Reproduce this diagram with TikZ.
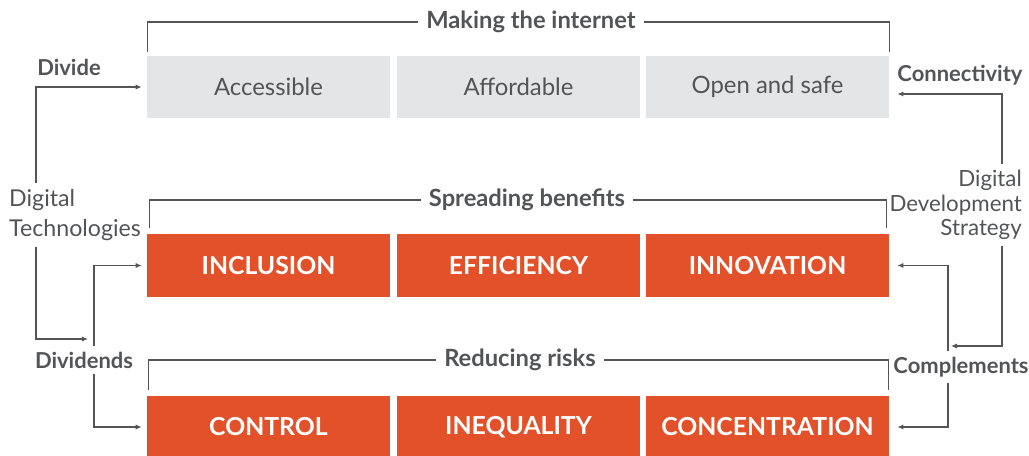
\documentclass[tikz,border=0pt]{standalone}
\usepackage{fontspec}
\setmainfont{Lato}
\usetikzlibrary{arrows.meta,positioning,calc}
\definecolor{boxgray}{HTML}{E4E5E6}
\definecolor{wdrorange}{HTML}{E2512A}
\definecolor{txtgray}{HTML}{535456}
\definecolor{linegray}{HTML}{545454}

\begin{document}
\begin{tikzpicture}[x=0.02cm,y=-0.02cm,
  font=\fontsize{12.5}{15}\selectfont,text=txtgray,
  gbox/.style={fill=boxgray,font=\fontsize{13.6}{16}\selectfont,minimum width=4.86cm,minimum height=1.24cm,inner sep=0pt},
  obox/.style={fill=wdrorange,text=white,font=\fontsize{14.1}{16}\selectfont\bfseries,minimum width=4.86cm,minimum height=1.26cm,inner sep=0pt},
  title/.style={font=\fontsize{13.5}{15}\selectfont\bfseries,inner sep=0.15cm},
  side/.style={font=\fontsize{12.5}{15}\selectfont\bfseries},
  bracket/.style={draw=linegray,line width=0.65pt},
  flow/.style={draw=linegray,line width=0.65pt,-{Latex[length=3.5pt,width=3pt]}}]

\useasboundingbox (0,0) rectangle (1029,456);

\node[gbox] (acc) at (268.5,87) {Accessible};
\node[gbox] (aff) at (518.5,87) {Affordable};
\node[gbox] (open) at (767.5,87) {Open and safe};

\node[obox] (inc) at (268.5,265.5) {INCLUSION};
\node[obox] (eff) at (518.5,265.5) {EFFICIENCY};
\node[obox] (inn) at (767.5,265.5) {INNOVATION};

\node[obox] (con) at (268.5,427) {CONTROL};
\node[obox] (ineq) at (518.5,427) {INEQUALITY};
\node[obox] (conc) at (767.5,427) {CONCENTRATION};

\node[title] (mk) at (531,22) {Making the internet};
\draw[bracket] (mk.west) -| ($(acc.north west)+(1,-4)$);
\draw[bracket] (mk.east) -| ($(open.north east)+(0,-4)$);

\node[title] (sb) at (527,200) {Spreading benefits};
\draw[bracket] (sb.west) -| ($(inc.north west)+(3,-6)$);
\draw[bracket] (sb.east) -| ($(inn.north east)+(-3,-6)$);

\node[title] (rr) at (520,360) {Reducing risks};
\draw[bracket] (rr.west) -| ($(con.north west)+(2,-5)$);
\draw[bracket] (rr.east) -| ($(conc.north east)+(-1,-5)$);

% left side
\node[side] (divide) at (69,67) {Divide};
\node[anchor=west,align=left,font=\fontsize{13.2}{17}\selectfont] (dt) at (3,215) {Digital\\Technologies};
\node[side] (dvd) at (84,360) {Dividends};
\coordinate (dtx) at (36,0);
\coordinate (dvx) at (94,0);
\coordinate (dvin) at (88,339);
\draw[flow] (dt.north -| dtx) |- ($(acc.west)+(-5,0)$);
\draw[flow] (dt.south -| dtx) |- (dvin);
\draw[flow] (dvd.north -| dvx) |- ($(inc.west)+(-5,0)$);
\draw[flow] (dvd.south -| dvx) |- ($(con.west)+(-5,0)$);

% right side
\node[side] (conn) at (960,75) {Connectivity};
\node[anchor=east,align=right,font=\fontsize{12.7}{13.8}\selectfont] (dds) at (1028,205) {Digital\\Development\\Strategy};
\node[side] (comp) at (961,367) {Complements};
\coordinate (ddx) at (1002,0);
\coordinate (cmx) at (948,0);
\coordinate (cmin) at (951,346);
\draw[flow] (dds.north -| ddx) |- ($(open.east)+(8,7)$);
\draw[flow] (dds.south -| ddx) |- (cmin);
\draw[flow] (comp.north -| cmx) |- ($(inn.east)+(8,0)$);
\draw[flow] (comp.south -| cmx) |- ($(conc.east)+(8,0)$);
\end{tikzpicture}
\end{document}
